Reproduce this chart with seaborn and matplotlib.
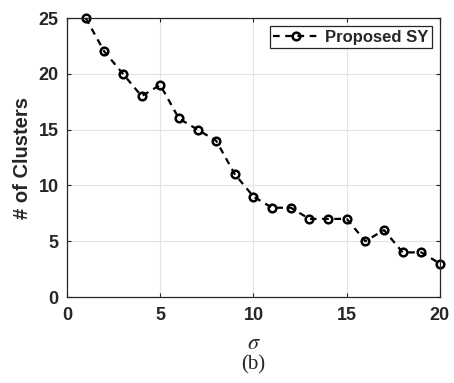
import numpy as np
import pandas as pd
import matplotlib
matplotlib.use("Agg")
import matplotlib.pyplot as plt
import seaborn as sns

# data
sigma = list(range(1, 21))
n_clusters = [25, 22, 20, 18, 19, 16, 15, 14, 11, 9, 8, 8, 7, 7, 7, 5, 6, 4, 4, 3]
series_name = "Proposed SY"

df = pd.DataFrame({"sigma": sigma, "clusters": n_clusters, "series": series_name})

sns.set_style("whitegrid")
plt.rcParams["font.family"] = ["Liberation Sans", "DejaVu Sans"]
plt.rcParams["mathtext.fontset"] = "stix"

fig = plt.figure(figsize=(4.54, 3.83), dpi=100)
ax = fig.add_axes([0.1476, 0.2245, 0.8214, 0.7285])

sns.lineplot(data=df, x="sigma", y="clusters", hue="series", palette=["black"],
             ax=ax, linewidth=1.6, marker="o", markersize=5.5,
             markerfacecolor="none", markeredgecolor="black", markeredgewidth=1.8,
             dashes=False)
line = ax.lines[0]
line.set_linestyle((0, (3, 2.5)))
line.set_clip_on(False)

ax.set_xlim(0, 20)
ax.set_ylim(0, 25)
ax.set_xticks([0, 5, 10, 15, 20])
ax.set_yticks([0, 5, 10, 15, 20, 25])
ax.grid(True, color="#e3e3e3", linewidth=0.8)
for s in ax.spines.values():
    s.set_color("#262626")
    s.set_linewidth(0.9)
ax.tick_params(axis="both", labelsize=13, colors="#262626", length=3, direction="in")
ax.tick_params(axis="x", pad=7)
ax.tick_params(axis="y", pad=6)
ax.tick_params(bottom=True, left=True, top=True, right=True)
for lbl in ax.get_xticklabels() + ax.get_yticklabels():
    lbl.set_fontweight("bold")

ax.set_xlabel(r"$\sigma$", fontsize=16, labelpad=7)
ax.set_ylabel("# of Clusters", fontsize=14.5, fontweight="bold", color="#262626", labelpad=5)

leg = ax.legend(loc="upper right", frameon=True, fancybox=False,
                handlelength=2.7, handletextpad=0.4, borderpad=0.2,
                borderaxespad=0.5, prop={"weight": "bold", "size": 12})
leg.get_frame().set_edgecolor("#262626")
leg.get_frame().set_linewidth(0.9)
leg.get_frame().set_alpha(1)
leg.get_lines()[0].set_linestyle((0, (3, 2.5)))

fig.text(0.5 * (0.1476 + 0.969), 1 - 365 / 383, "(b)", ha="center", va="center",
         fontsize=15, family="Liberation Serif")

fig.savefig("out.png", dpi=100)
